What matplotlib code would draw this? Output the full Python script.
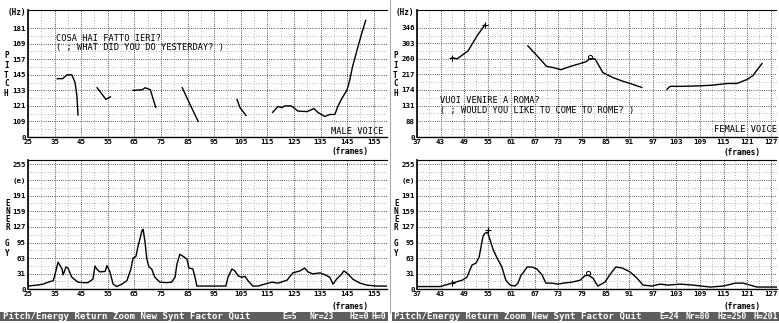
import numpy as np
import matplotlib
matplotlib.use('Agg')
import matplotlib.pyplot as plt
from matplotlib.patches import Rectangle
from matplotlib.lines import Line2D

nan = np.nan

# ---------------- data ----------------
male_frames_ticks = [25, 35, 45, 55, 65, 75, 85, 95, 105, 115, 125, 135, 145, 155]
female_frames_ticks = [37, 43, 49, 55, 61, 67, 73, 79, 85, 91, 97, 103, 109, 115, 121, 127]

male_pitch_ticks = [97, 109, 121, 133, 145, 157, 169, 181]
male_pitch_labels = ['0', '109', '121', '133', '145', '157', '169', '181']
female_pitch_ticks = [44, 88, 131, 174, 217, 260, 303, 346]
female_pitch_labels = ['0', '88', '131', '174', '217', '260', '303', '346']
energy_ticks = [0, 31, 63, 95, 127, 159, 191, 223, 255]
energy_labels = ['0', '31', '63', '95', '127', '159', '191', '(e)', '255']

male_pitch_frames = [36, 38, 39.7, 41.5, 42.7, 43.4, 43.8, nan,
                     51, 54.3, 56, nan,
                     64.5, 68, 69, 71, 73, nan,
                     83, 85.5, 89, nan,
                     103.6, 104.7, 107, nan,
                     117, 119, 120.5, 121.6, 124, 126.5, 130, 132.5, 134, 136.6,
                     138.5, 140.4, 141.5, 143, 145, 146, 147, 149, 150.5, 152]
male_pitch_hz = [142, 142, 145, 145, 139, 128.5, 114, nan,
                 135, 126, 128, nan,
                 133, 133.5, 135, 133.5, 120, nan,
                 135, 124, 109, nan,
                 126, 119.7, 113.6, nan,
                 116, 120.5, 119.7, 121, 121, 117, 116.6, 119, 116, 112.8,
                 114.4, 114.4, 120.5, 126.6, 133.5, 141, 151, 166, 177, 187]

female_pitch_frames = [45.9, 47.2, 50, 52.3, 54.3, nan,
                       65.2, 67.5, 70, 71.6, 73.6, 76, 78.5, 80, 81, 82.3, 84.3,
                       86.9, 89.4, 91.2, 94.2, nan,
                       100.6, 101.4, 104, 108, 112, 116, 118.4, 121, 122.5, 123.8, 124.8]
female_pitch_hz = [263, 260, 282, 324, 354, nan,
                   296, 269, 239, 236, 230, 239, 247, 252, 260, 260, 222,
                   208, 198, 192, 181, nan,
                   176, 184, 184, 185, 187, 192, 192, 203, 214, 233, 247]

male_energy_frames = [25, 28.4, 30.7, 32.6, 34.5, 35.5, 36.3, 37.8, 38.2, 39.3, 40, 41.5,
                      43.8, 45.7, 47.5, 49.4, 50.2, 51, 52, 54, 54.7, 55.8, 57, 58.4,
                      60.3, 62.2, 63.7, 64.5, 65.6, 66.4, 67.9, 68.3, 69, 69.7, 70.5,
                      71.5, 72.7, 74.6, 77.2, 79, 80.3, 81, 82.1, 83.3, 84.8, 85.5, 87,
                      87.8, 88.5, 93.4, 99.4, 100.2, 101.7, 102.8, 104, 105.4, 106.6,
                      107.7, 109.6, 111.5, 114, 116.7, 119, 122.4, 124.6, 127.3, 129,
                      130.3, 132, 134.8, 136.7, 138.5, 139.7, 141, 142.7, 143.8, 145.3,
                      147.2, 149.8, 152.4, 156, 160]
male_energy = [6, 8, 10, 14, 17, 37, 55, 41, 29, 45, 43, 24,
               14, 13, 13, 20, 47, 40, 35, 36, 48, 35, 10, 5,
               10, 17, 41, 63, 67, 88, 120, 122, 96, 61, 45,
               41, 24, 14, 13, 14, 24, 51, 71, 67, 61, 43, 41,
               24, 6, 6, 6, 24, 41, 37, 27, 24, 26,
               17, 6, 6, 10, 14, 12, 18, 33, 37, 43,
               35, 31, 33, 29, 24, 10, 20, 29, 37, 31,
               20, 12, 8, 6, 6]

female_energy_frames = [37, 42.9, 45.9, 48.5, 49.7, 51, 52, 52.8, 53.8, 54.3, 55, 55.6,
                        56.4, 57.4, 58.6, 59.6, 60.7, 61.9, 62.7, 63.5, 64, 65, 66.3,
                        67.5, 68.8, 69.8, 71.3, 72.9, 74.2, 76.4, 78.5, 79.7, 80.6, 81.8,
                        83, 84.8, 86.6, 87.6, 89.2, 91.2, 93, 94.5, 96.8, 98.8, 100.9,
                        104, 107.2, 111.6, 114.9, 118, 120, 123.5, 126, 128.8]
female_energy = [5, 5, 12, 18, 24, 49, 53, 65, 108, 114, 116, 100,
                 80, 63, 45, 18, 8, 6, 12, 29, 33, 45, 45,
                 41, 29, 12, 12, 10, 12, 14, 18, 27, 28, 22,
                 6, 14, 35, 45, 43, 35, 22, 8, 6, 10, 8,
                 10, 8, 4, 6, 12, 12, 4, 4, 4]

female_pitch_plus = ([45.9, 54.3], [263, 354])
female_pitch_circle = ([81], [266])
female_energy_plus = ([45.9, 55], [12, 120])
female_energy_circle = ([80.6], [33])

male_text = ['COSA HAI FATTO IERI?', '( ; WHAT DID YOU DO YESTERDAY? )']
female_text = ['VUOI VENIRE A ROMA?', '( ; WOULD YOU LIKE TO COME TO ROME? )']

status_menu = 'Pitch/Energy Return Zoom New Synt Factor Quit'
status_left = ['E=5', 'Nr=23', 'Hz=0', 'H=0']
status_right = ['E=24', 'Nr=80', 'Hz=250', 'H=201']

# ---------------- figure ----------------
W, H = 779, 323
fig = plt.figure(figsize=(W / 100, H / 100), dpi=100)
fig.patch.set_facecolor('white')
FONT = 'DejaVu Sans Mono'


def rect(x0, y0, x1, y1):
    return [x0 / W, 1 - y1 / H, (x1 - x0) / W, (y1 - y0) / H]


def ftext(x, y, s, size=5.5, **kw):
    kw.setdefault('ha', 'left')
    kw.setdefault('va', 'center')
    fig.text(x / W, 1 - y / H, s, fontsize=size, fontfamily=FONT,
             fontweight='bold', color=kw.pop('color', 'black'), **kw)


def mids(v):
    return [(a + b) / 2 for a, b in zip(v[:-1], v[1:])]


def setup(ax, xlim, ylim, xticks, yticks, ylabels, xstep):
    ax.set_xlim(xlim)
    ax.set_ylim(ylim)
    ax.set_xticks(xticks)
    ax.set_xticklabels([str(t) for t in xticks])
    ax.set_yticks(yticks)
    ax.set_yticklabels(ylabels)
    xminor = [t + xstep / 2 for t in xticks if t + xstep / 2 < xlim[1]]
    ax.set_xticks(xminor, minor=True)
    ax.set_yticks(mids(list(yticks)), minor=True)
    ax.tick_params(which='both', length=0, labelsize=5.3, pad=1.5)
    for lab in ax.get_xticklabels() + ax.get_yticklabels():
        lab.set_fontfamily(FONT)
        lab.set_fontweight('bold')
    ax.grid(which='major', color='#222222', lw=0.6, ls=(0, (1, 1.6)))
    ax.grid(which='minor', color='#777777', lw=0.5, ls=(0, (1, 3)))
    ax.spines['right'].set_visible(False)
    ax.spines['top'].set_linestyle((0, (2, 1)))
    ax.spines['top'].set_linewidth(0.8)
    ax.spines['left'].set_linewidth(1.2)
    ax.spines['bottom'].set_linewidth(1.0)


# top-left: male pitch
ax1 = fig.add_axes(rect(28, 10, 387, 137))
setup(ax1, (25, 160), (97, 195), male_frames_ticks, male_pitch_ticks, male_pitch_labels, 10)
ax1.plot(male_pitch_frames, male_pitch_hz, color='black', lw=1.0)
ax1.text(0.077, 0.74, male_text[0] + '\n' + male_text[1], transform=ax1.transAxes,
         fontsize=6.2, fontfamily=FONT, va='center', ha='left', linespacing=0.95)
ax1.text(0.99, 0.01, 'MALE VOICE', transform=ax1.transAxes, fontsize=6.2,
         fontfamily=FONT, ha='right', va='bottom')

# top-right: female pitch
ax2 = fig.add_axes(rect(417, 10, 777, 137))
setup(ax2, (37, 128.6), (44, 395), female_frames_ticks, female_pitch_ticks, female_pitch_labels, 6)
ax2.plot(female_pitch_frames, female_pitch_hz, color='black', lw=1.0)
ax2.plot(*female_pitch_plus, ls='none', marker='+', ms=4, color='black', mew=0.8)
ax2.plot(*female_pitch_circle, ls='none', marker='o', ms=3, mfc='none', color='black', mew=0.7)
ax2.text(0.064, 0.25, female_text[0] + '\n' + female_text[1], transform=ax2.transAxes,
         fontsize=6.2, fontfamily=FONT, va='center', ha='left', linespacing=1.2)
ax2.text(1.0, 0.02, 'FEMALE VOICE', transform=ax2.transAxes, fontsize=6.2,
         fontfamily=FONT, ha='right', va='bottom')

# bottom-left: male energy
ax3 = fig.add_axes(rect(28, 160, 387, 289))
setup(ax3, (25, 160), (0, 264), male_frames_ticks, energy_ticks, energy_labels, 10)
ax3.plot(male_energy_frames, male_energy, color='black', lw=1.0)

# bottom-right: female energy
ax4 = fig.add_axes(rect(417, 160, 777, 289))
setup(ax4, (37, 128.6), (0, 264), female_frames_ticks, energy_ticks, energy_labels, 6)
ax4.plot(female_energy_frames, female_energy, color='black', lw=1.0)
ax4.plot(*female_energy_plus, ls='none', marker='+', ms=4, color='black', mew=0.8)
ax4.plot(*female_energy_circle, ls='none', marker='o', ms=3, mfc='none', color='black', mew=0.7)

# side labels
for x0 in (3, 392):
    xt = 26 if x0 == 3 else 414
    ftext(xt, 13, '(Hz)', ha='right')
    for ch, y in zip('PITCH', [55, 65, 75, 84, 93]):
        ftext(x0 + 1, y, ch)
    for ch, y in zip('ENERGY', [203, 211, 219, 228, 244, 253]):
        ftext(x0 + 2, y, ch)

# "(frames)" labels
for xc, y in [(350, 151), (350, 306), (742, 152), (742, 306)]:
    ftext(xc, y, '(frames)', size=5.6, ha='center')

# separator
fig.add_artist(Line2D([389.5 / W, 389.5 / W], [0.03, 1.0], color='#aaaaaa', lw=0.8))

# status bars
for x0, x1, xm, vals, xs in [
    (0, 388, 3, status_left, [282, 309, 349, 372]),
    (392, 779, 394, status_right, [659, 686, 718, 753]),
]:
    fig.add_artist(Rectangle((x0 / W, 1 - 321 / H), (x1 - x0) / W, 9 / H,
                             transform=fig.transFigure, facecolor='#5e5e5e',
                             edgecolor='none'))
    ftext(xm, 316.5, status_menu, size=6.6, color='white')
    for x, s in zip(xs, vals):
        ftext(x, 316.5, s, size=5.9, color='white')

fig.savefig('out.png', dpi=100)
